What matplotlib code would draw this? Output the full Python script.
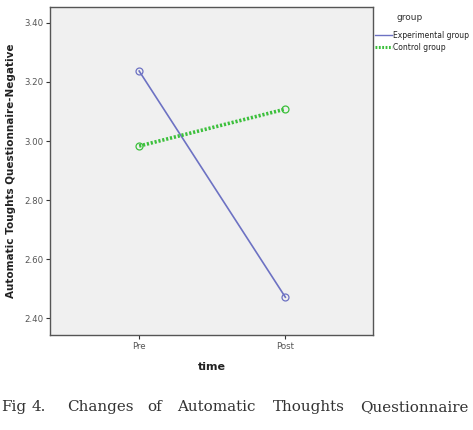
import matplotlib
matplotlib.use("Agg")
import matplotlib.pyplot as plt
from matplotlib.lines import Line2D

times = ["Pre", "Post"]
experimental = [3.237, 2.471]
control = [2.983, 3.108]
yticks = [2.40, 2.60, 2.80, 3.00, 3.20, 3.40]

fig = plt.figure(figsize=(4.73, 4.30), dpi=100)
ax = fig.add_axes([0.1057, 0.221, 0.683, 0.7628])
ax.set_facecolor("#f0f0f0")

x = list(range(len(times)))
ax.plot(x, experimental, color="#6d72c3", lw=1.2, marker="o", ms=5,
        mfc="none", mec="#6d72c3", mew=0.9)
ax.plot(x, control, color="#3cc03c", lw=2.6, ls=(0, (0.6, 0.5)), marker="o", ms=5,
        mfc="none", mec="#3cc03c", mew=0.9)

ax.set_xlim(-0.61, 1.6)
ax.set_ylim(2.343, 3.454)
ax.set_xticks(x)
ax.set_xticklabels(times)
ax.set_yticks(yticks)
ax.set_yticklabels([f"{v:.2f}" for v in yticks])
ax.tick_params(axis="both", labelsize=6.2, colors="#333333", length=3, width=0.8, pad=2)
for t in ax.get_xticklabels() + ax.get_yticklabels():
    t.set_color("#555555")
for s in ax.spines.values():
    s.set_color("#555555")
    s.set_linewidth(1.0)

ax.set_xlabel("time", fontsize=8, fontweight="bold", labelpad=8, color="#222222")
ax.set_ylabel("Automatic Toughts Questionnaire-Negative", fontsize=7.5,
              fontweight="bold", labelpad=6, color="#222222")

# legend
fig.text(410 / 473, 1 - 17 / 430, "group", fontsize=6.5, ha="center", va="center", color="#333333")
fig.add_artist(Line2D([375 / 473, 392 / 473], [1 - 35 / 430] * 2, color="#6d72c3", lw=1.0))
fig.add_artist(Line2D([375 / 473, 392 / 473], [1 - 47 / 430] * 2, color="#3cc03c", lw=2.2,
                      ls=(0, (0.6, 0.5))))
fig.text(393 / 473, 1 - 35 / 430, "Experimental group", fontsize=5.5, ha="left", va="center", color="#222222")
fig.text(393 / 473, 1 - 47 / 430, "Control group", fontsize=5.5, ha="left", va="center", color="#222222")

# caption (justified)
words = ["Fig", "4.", "Changes", "of", "Automatic", "Thoughts", "Questionnaire"]
xpos = [1, 32, 67, 147, 177, 273, 360]
for w, xp in zip(words, xpos):
    fig.text(xp / 473, 1 - 407 / 430, w, fontsize=10.9, family="DejaVu Serif",
             ha="left", va="center", color="#333333")

fig.savefig("out.png", dpi=100)
